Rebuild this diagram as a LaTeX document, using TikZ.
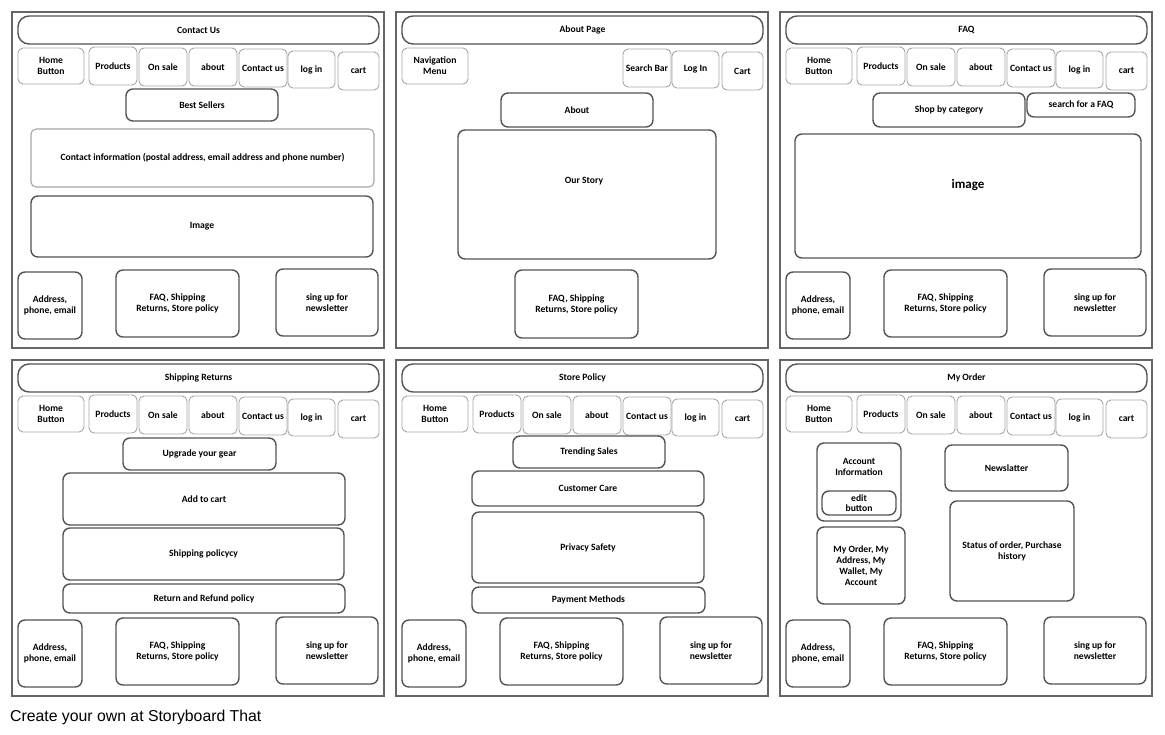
\documentclass[tikz,border=0pt]{standalone}
\usepackage{fontspec}
\setmainfont{Carlito}
\newfontfamily\capfont{Liberation Sans}
\begin{document}
\begin{tikzpicture}[x=1pt, y=-1pt,
  font={\fontsize{9.6}{11}\selectfont\bfseries},
  frame/.style={draw=gray!80!black, line width=1.6pt},
  wbox/.style={draw=gray!65!black, line width=1.4pt, rounded corners=7pt, align=center, inner sep=1pt},
  nbox/.style={draw=gray!70, line width=0.9pt, rounded corners=5pt, align=center, inner sep=1pt},
  titlebar/.style={wbox, rounded corners=11pt},
  sz/.style 2 args={minimum width=#1, minimum height=#2}]
  \useasboundingbox (0,0) rectangle (1165,734);

  % panel frames and title bars
  \foreach \px/\py/\ttl [count=\i] in {0/0/Contact Us, 384/0/About Page, 768/0/FAQ,
      0/348/Shipping Returns, 384/348/Store Policy, 768/348/My Order} {
    \node[frame, sz={372}{336}] (panel\i) at (\px+198,\py+180) {};
    \node[titlebar, sz={361}{28}] (title\i) at (\px+198.5,\py+30) {\ttl};
  }

  % navigation row (same on every page but the about page)
  \foreach \px/\py [count=\i] in {0/0, 768/0, 0/348, 384/348, 768/348} {
    \node[nbox, sz={66}{36}] (home\i) at (\px+51,\py+66) {Home\\Button};
    \node[nbox, sz={48}{38}] (prod\i) at (\px+113,\py+66) {Products};
    \node[nbox, sz={48}{38}] (sale\i) at (\px+163,\py+67) {On sale};
    \node[nbox, sz={48}{38}] (abt\i) at (\px+213,\py+67) {about};
    \node[nbox, sz={48}{38}] (cont\i) at (\px+263,\py+68) {Contact us};
    \node[nbox, sz={47}{37}] (login\i) at (\px+311.5,\py+69.5) {log in};
    \node[nbox, sz={41}{38}] (cart\i) at (\px+358.5,\py+71) {cart};
  }

  % footer row
  \foreach \px/\py [count=\i] in {0/0, 768/0, 0/348, 384/348, 768/348} {
    \node[wbox, sz={64}{67}] (addr\i) at (\px+50,\py+305.5) {Address,\\phone, email};
    \node[wbox, sz={123}{67}] (faq\i) at (\px+177.5,\py+303.5) {FAQ, Shipping\\Returns, Store policy};
    \node[wbox, sz={102}{67}] (news\i) at (\px+327,\py+302.5) {sing up for\\newsletter};
  }

  % contact us
  \node[wbox, sz={152}{32}] (best) at (202,105) {Best Sellers};
  \node[nbox, line width=1.1pt, sz={343}{58}] (info) at (202.5,158)
    {Contact information (postal address, email address and phone number)};
  \node[wbox, sz={342}{61}] (img) at (202,226.5) {Image};

  % about page
  \node[nbox, sz={66}{36}] (navmenu) at (435,66) {Navigation\\Menu};
  \node[nbox, sz={48}{38}] (search) at (647,68) {Search Bar};
  \node[nbox, sz={47}{37}] (logb) at (695.5,69.5) {Log In};
  \node[nbox, sz={41}{38}] (cartb) at (742.5,71) {Cart};
  \node[wbox, sz={152}{34}] (about) at (577,110) {About};
  \node[wbox, sz={258}{129}] (story) at (587,194.5) {};
  \node (storytxt) at (584,181) {Our Story};
  \node[wbox, sz={123}{68}] (faqb) at (576.5,304) {FAQ, Shipping\\Returns, Store policy};

  % faq
  \node[wbox, sz={152}{34}] (shop) at (949,110) {Shop by category};
  \node[wbox, sz={108}{24}] (findfaq) at (1081,105) {search for a FAQ};
  \node[wbox, sz={346}{124}] (faqimg) at (968,196) {};
  \node[font={\fontsize{13}{15}\selectfont\bfseries}] (faqimgtxt) at (968,185) {image};

  % shipping returns
  \node[wbox, sz={153}{32}] (gear) at (199.5,454) {Upgrade your gear};
  \node[wbox, sz={282}{52}] (addcart) at (204,499) {Add to cart};
  \node[wbox, sz={281}{52}] (shippol) at (203.5,554) {Shipping policycy};
  \node[wbox, sz={282}{29}] (refund) at (204,598.5) {Return and Refund policy};

  % store policy
  \node[wbox, sz={152}{32}] (trend) at (589,452) {Trending Sales};
  \node[wbox, sz={232}{35}] (care) at (588,488.5) {Customer Care};
  \node[wbox, sz={232}{71}] (privacy) at (588,547.5) {Privacy Safety};
  \node[wbox, sz={233}{26}] (pay) at (588.5,600) {Payment Methods};

  % my order
  \node[wbox, sz={84}{78}] (acct) at (859,482) {};
  \node[align=center] (accttxt) at (859,466.5) {Account\\Information};
  \node[wbox, sz={74}{24}, font={\fontsize{9.6}{10}\selectfont\bfseries}] (edit) at (859,503) {edit\\button};
  \node[wbox, sz={88}{77}] (orders) at (861,565.5) {My Order, My\\Address, My\\Wallet, My\\Account};
  \node[wbox, sz={123}{46}] (newsl) at (1006.5,468) {Newslatter};
  \node[wbox, sz={124}{100}] (status) at (1012,551) {Status of order, Purchase\\history};

  % credit line
  \node[anchor=base west, inner sep=0, font={\capfont\fontsize{15.8}{18}\selectfont}] (credit) at (10,721)
    {Create your own at Storyboard That};
\end{tikzpicture}
\end{document}
